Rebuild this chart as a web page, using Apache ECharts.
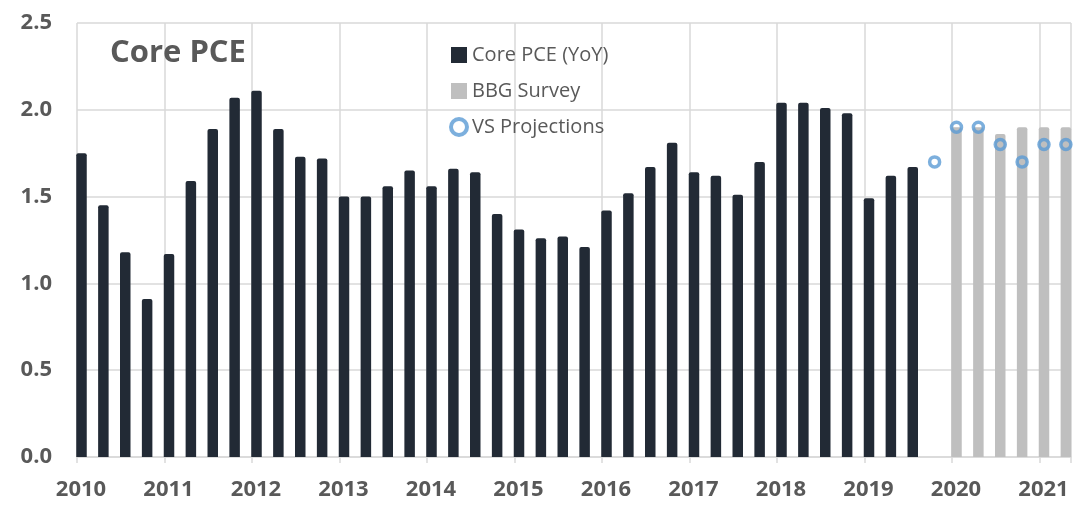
<!DOCTYPE html>
<html>
<head>
<meta charset="utf-8">
<script src="https://cdn.jsdelivr.net/npm/echarts@6/dist/echarts.min.js"></script>
<style>
  html, body { margin: 0; padding: 0; background: #fff; }
  #chart { width: 1083px; height: 509px; }
</style>
</head>
<body>
<div id="chart"></div>
<script>
// quarters on the axis
const coreQuarters = [
  '2010Q1','2010Q2','2010Q3','2010Q4','2011Q1','2011Q2','2011Q3','2011Q4',
  '2012Q1','2012Q2','2012Q3','2012Q4','2013Q1','2013Q2','2013Q3','2013Q4',
  '2014Q1','2014Q2','2014Q3','2014Q4','2015Q1','2015Q2','2015Q3','2015Q4',
  '2016Q1','2016Q2','2016Q3','2016Q4','2017Q1','2017Q2','2017Q3','2017Q4',
  '2018Q1','2018Q2','2018Q3','2018Q4','2019Q1','2019Q2','2019Q3'
];
const coreValues = [
  1.75, 1.45, 1.18, 0.91, 1.17, 1.59, 1.89, 2.07,
  2.11, 1.89, 1.73, 1.72, 1.50, 1.50, 1.56, 1.65,
  1.56, 1.66, 1.64, 1.40, 1.31, 1.26, 1.27, 1.21,
  1.42, 1.52, 1.67, 1.81, 1.64, 1.62, 1.51, 1.70,
  2.04, 2.04, 2.01, 1.98, 1.49, 1.62, 1.67
];
const surveyQuarters = ['2020Q1','2020Q2','2020Q3','2020Q4','2021Q1','2021Q2'];
const surveyValues = [1.9, 1.9, 1.86, 1.9, 1.9, 1.9];
const projQuarters = ['2019Q4','2020Q1','2020Q2','2020Q3','2020Q4','2021Q1','2021Q2'];
const projValues = [1.7, 1.9, 1.9, 1.8, 1.7, 1.8, 1.8];
const yTicks = [0, 0.5, 1.0, 1.5, 2.0, 2.5];

function toYear(q) {
  return Number(q.slice(0, 4)) + (Number(q.slice(5)) - 1) / 4;
}
function pairs(qs, vals) {
  return qs.map((q, i) => [toYear(q), vals[i]]);
}

const font = '"Open Sans", sans-serif';
const gridColor = '#d9d9d9';
const blue = '#5b9bd5';

const chart = echarts.init(document.getElementById('chart'));
chart.setOption({
  animation: false,
  textStyle: { fontFamily: font },
  grid: { left: 77, right: 12, top: 23, bottom: 52 },
  title: {
    text: 'Core PCE',
    left: 105,
    top: 33,
    textStyle: { fontSize: 31, fontWeight: 'bold', color: '#595959', fontFamily: font }
  },
  legend: {
    orient: 'vertical',
    left: 444,
    top: 40,
    itemWidth: 16,
    itemHeight: 16,
    itemGap: 16,
    textStyle: { fontSize: 20, color: '#595959', fontFamily: font },
    data: [
      { name: 'Core PCE (YoY)', icon: 'rect' },
      { name: 'BBG Survey', icon: 'rect' },
      { name: 'VS Projections', icon: 'circle', itemStyle: { borderWidth: 4, borderColor: blue } }
    ]
  },
  xAxis: {
    type: 'value',
    min: 2010,
    max: 2021.36,
    interval: 1,
    axisLine: { lineStyle: { color: gridColor, width: 1.5 } },
    axisTick: { show: true, length: 6, lineStyle: { color: gridColor, width: 1.5 } },
    splitLine: { show: true, lineStyle: { color: gridColor, width: 1.5 } },
    axisLabel: {
      margin: 22,
      fontSize: 22,
      fontWeight: 'bold',
      color: '#595959',
      padding: [0, 0, 0, 8],
      formatter: v => (Number.isInteger(v) ? String(v) : '')
    }
  },
  yAxis: {
    type: 'value',
    min: yTicks[0],
    max: yTicks[yTicks.length - 1],
    interval: 0.5,
    axisLine: { show: false },
    axisTick: { show: false },
    splitLine: { lineStyle: { color: gridColor, width: 1.5 } },
    axisLabel: {
      margin: 25,
      fontSize: 22,
      fontWeight: 'bold',
      color: '#595959',
      formatter: v => v.toFixed(1)
    }
  },
  series: [
    {
      // empty slot so the bars sit right of their quarter line
      name: 'pad',
      type: 'bar',
      barWidth: 9,
      barGap: 0,
      silent: true,
      data: []
    },
    {
      name: 'Core PCE (YoY)',
      type: 'bar',
      stack: 'obs',
      barWidth: 10.5,
      barGap: 0,
      itemStyle: { color: '#222a35', borderRadius: [2, 2, 0, 0] },
      data: pairs(coreQuarters, coreValues)
    },
    {
      name: 'BBG Survey',
      type: 'bar',
      stack: 'obs',
      barWidth: 10.5,
      barGap: 0,
      itemStyle: { color: '#bfbfbf', borderRadius: [2, 2, 0, 0] },
      data: pairs(surveyQuarters, surveyValues)
    },
    {
      name: 'VS Projections',
      type: 'scatter',
      symbol: 'circle',
      symbolSize: 10,
      symbolOffset: [4.5, 0],
      itemStyle: { color: 'rgba(255,255,255,0)', borderColor: blue, borderWidth: 3.5 },
      z: 5,
      data: pairs(projQuarters, projValues)
    }
  ]
});
</script>
</body>
</html>
